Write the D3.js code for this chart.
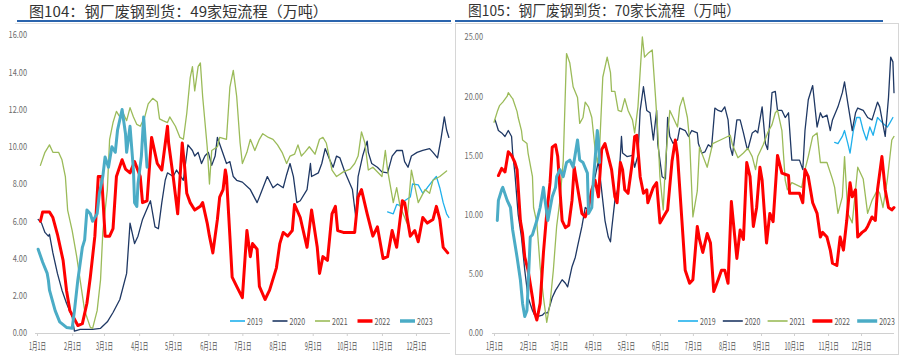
<!DOCTYPE html>
<html><head><meta charset="utf-8">
<script src="https://cdn.jsdelivr.net/npm/d3@7/dist/d3.min.js"></script>
<style>body{margin:0;background:#fff}svg{display:block}</style>
</head><body><svg id="c" width="900" height="356"></svg>
<script>
// ---------- data ----------
const years = ["2019","2020","2021","2022","2023"];
const monthLabels = ["1月1日","2月1日","3月1日","4月1日","5月1日","6月1日","7月1日","8月1日","9月1日","10月1日","11月1日","12月1日"];
const leftTitle = "图104：钢厂废钢到货：49家短流程（万吨）";
const rightTitle = "图105：钢厂废钢到货：70家长流程（万吨）";
const leftYTicks = [0,2,4,6,8,10,12,14,16];
const rightYTicks = [0,5,10,15,20,25];

// [day of year, value]  — 49 short-process mills
const short2019 = [[309,6.5],[314,6.4],[317,6.9],[322,6.8],[324,7.1],[329,7.3],[331,8.0],[336,7.95],[340,7.5],[344,7.8],[349,8.2],[352,8.4],[355,7.8],[358,7.0],[361,6.4],[363,6.2]];
const short2020 = [[1,6.1],[4,5.9],[7,5.4],[10,5.2],[11,5.3],[14,4.3],[18,3.2],[22,2.3],[26,1.6],[31,0.86],[33,0.1],[38,0.2],[44,0.2],[49,0.2],[56,0.25],[62,0.6],[67,1.1],[73,1.8],[79,3.2],[82,5.9],[86,4.8],[89,5.2],[93,6.1],[100,7.1],[104,5.7],[107,5.6],[110,7.0],[113,8.2],[115,8.6],[120,8.4],[123,8.75],[129,8.2],[133,10.1],[137,9.8],[139,9.5],[142,9.7],[145,9.1],[148,9.5],[151,9.7],[154,9.0],[157,9.5],[159,10.5],[163,9.8],[167,9.1],[170,9.2],[173,8.4],[176,8.2],[181,8.1],[188,7.7],[194,7.0],[196,7.3],[203,8.4],[208,7.8],[212,8.0],[217,7.8],[220,8.5],[223,9.1],[226,8.4],[229,7.0],[232,7.1],[238,7.7],[241,9.1],[242,8.4],[248,8.6],[251,9.1],[254,9.9],[258,9.3],[261,8.9],[264,9.5],[267,9.4],[271,8.7],[278,7.7],[281,6.2],[283,8.4],[287,9.5],[291,10.3],[292,9.7],[295,9.1],[300,8.9],[304,8.65],[309,8.6],[313,9.5],[317,9.8],[322,9.8],[324,9.2],[327,8.9],[330,9.5],[335,9.7],[340,9.8],[346,9.9],[349,9.7],[353,9.4],[356,10.4],[359,11.6],[361,10.9],[363,10.5]];
const short2021 = [[3,9.0],[7,9.7],[11,10.1],[14,9.7],[19,9.7],[22,9.3],[25,8.4],[27,6.6],[31,5.5],[35,4.1],[38,2.85],[42,1.2],[47,0.3],[49,0.25],[53,1.2],[56,2.85],[58,5.4],[62,7.7],[64,10.4],[67,11.3],[70,11.9],[73,11.6],[76,11.8],[79,11.4],[82,12.1],[85,11.6],[88,11.2],[91,11.1],[95,11.6],[98,12.3],[102,12.6],[106,12.4],[108,11.5],[111,11.4],[115,11.3],[117,11.6],[122,11.1],[126,10.5],[129,10.4],[132,11.8],[135,13.7],[137,14.3],[139,13.0],[142,14.3],[144,14.5],[146,12.7],[150,10.0],[152,8.0],[154,9.8],[159,10.0],[161,10.5],[167,10.4],[170,13.2],[173,14.1],[176,12.7],[179,10.2],[181,9.1],[185,9.7],[188,10.4],[192,9.8],[196,10.4],[199,10.7],[204,10.5],[208,10.4],[212,10.1],[216,9.7],[220,9.1],[223,9.5],[227,9.6],[230,10.1],[233,9.5],[236,9.7],[240,10.0],[245,9.6],[249,10.4],[252,10.5],[255,10.2],[260,8.75],[264,8.4],[270,8.65],[276,8.8],[280,9.1],[283,9.5],[286,10.8],[289,10.2],[292,8.75],[296,8.9],[304,8.4],[307,9.8],[309,8.75],[314,7.0],[317,7.8],[320,6.8],[326,5.9],[330,8.75],[336,7.0],[342,7.7],[346,7.5],[349,8.2],[355,8.4],[361,8.7]];
const short2022 = [[3,6.0],[5,6.5],[11,6.5],[14,6.2],[18,5.3],[23,3.9],[26,2.3],[29,1.2],[36,0.4],[40,0.5],[44,1.6],[47,3.0],[51,5.2],[54,8.4],[57,8.4],[60,5.2],[64,5.2],[67,5.6],[70,8.4],[75,9.3],[78,8.8],[82,8.6],[86,9.2],[91,8.4],[93,7.0],[97,7.1],[101,10.5],[106,9.1],[110,8.75],[115,11.1],[116,10.2],[120,8.4],[124,6.4],[128,10.2],[130,9.0],[132,7.5],[135,7.0],[139,6.6],[144,6.8],[146,7.0],[150,5.9],[152,5.2],[155,4.3],[159,6.1],[161,7.3],[164,7.7],[166,8.75],[167,8.4],[170,5.2],[172,3.0],[176,2.5],[181,1.9],[185,5.5],[188,4.1],[190,4.8],[194,4.5],[196,2.5],[201,1.8],[205,2.3],[211,3.5],[214,4.8],[217,5.4],[221,5.2],[225,5.5],[227,6.9],[232,6.2],[238,4.6],[242,6.6],[247,4.6],[249,3.2],[252,4.1],[256,3.9],[260,6.4],[263,6.8],[265,5.5],[270,5.4],[280,5.4],[283,7.3],[286,7.7],[291,6.4],[296,5.2],[300,5.7],[305,4.0],[309,4.1],[313,5.5],[317,4.6],[322,7.1],[324,7.0],[329,5.2],[333,5.5],[336,4.9],[340,6.2],[344,5.9],[349,6.1],[352,6.8],[355,6.1],[358,4.6],[362,4.3]];
const short2023 = [[1,4.5],[5,3.8],[9,3.2],[10,2.85],[11,2.3],[16,1.2],[20,0.6],[26,0.3],[31,0.25],[33,1.2],[36,2.85],[40,4.6],[42,5.0],[44,6.6],[47,6.4],[49,6.0],[53,6.4],[55,7.5],[58,8.4],[60,9.45],[63,8.9],[66,10.0],[69,9.7],[71,10.9],[75,12.0],[78,10.7],[79,9.7],[82,11.1],[85,8.75],[86,7.0],[88,6.8],[89,8.0],[92,9.5],[94,11.6],[97,8.9]];

// 70 long-process mills
const long2019 = [[310,16.1],[313,16.0],[317,16.6],[319,17.1],[322,16.0],[324,15.2],[327,17.1],[330,18.2],[333,18.2],[336,17.1],[339,16.3],[342,17.4],[345,16.7],[349,18.2],[351,18.0],[354,17.7],[358,17.4],[360,17.7],[363,18.2]];
const long2020 = [[1,18.0],[4,17.1],[7,16.9],[10,16.6],[13,17.1],[16,16.6],[17,15.2],[19,13.5],[22,10.0],[25,8.1],[28,5.3],[31,3.0],[35,1.9],[37,1.5],[40,1.4],[44,1.5],[46,1.7],[49,1.7],[53,3.0],[56,3.6],[58,3.9],[62,4.5],[65,4.2],[67,3.9],[71,5.6],[74,6.4],[76,7.3],[80,9.0],[83,10.6],[86,10.4],[89,12.1],[92,13.2],[95,14.5],[98,12.0],[101,9.5],[104,8.1],[106,7.7],[107,8.7],[110,11.2],[113,12.3],[115,15.0],[116,16.6],[117,15.2],[121,14.9],[126,15.0],[128,14.0],[131,15.0],[133,18.8],[136,20.8],[139,18.8],[142,18.6],[145,16.3],[148,18.8],[149,16.0],[153,13.2],[156,13.0],[158,18.2],[160,16.6],[163,16.0],[167,16.3],[169,17.3],[174,17.1],[177,16.6],[180,17.1],[185,16.9],[186,16.0],[189,15.2],[192,15.3],[195,15.9],[198,15.7],[201,19.0],[204,18.8],[207,18.7],[210,19.1],[213,18.0],[215,15.7],[217,15.0],[221,18.0],[224,18.0],[227,16.9],[230,15.7],[231,15.5],[235,16.9],[238,17.1],[240,16.9],[244,19.1],[247,16.0],[249,15.5],[253,20.3],[256,20.4],[258,18.8],[262,18.8],[265,18.2],[268,18.6],[271,14.6],[278,14.6],[281,13.8],[283,17.1],[286,19.7],[290,20.9],[294,17.4],[297,18.6],[299,18.2],[303,18.4],[306,17.1],[308,18.0],[313,19.1],[317,20.3],[319,21.2],[322,19.4],[326,17.1],[329,18.6],[331,19.0],[336,18.8],[340,18.2],[344,18.0],[349,19.5],[351,19.1],[356,16.6],[359,19.9],[361,23.3],[363,22.9],[364,20.3]];
const long2021 = [[0,17.8],[3,18.7],[5,19.2],[8,19.5],[12,20.0],[13,20.3],[16,19.9],[17,19.8],[21,18.7],[22,18.2],[25,17.1],[26,16.3],[30,16.0],[31,15.2],[35,13.2],[36,10.6],[39,9.3],[42,5.6],[45,3.0],[48,0.9],[51,2.5],[54,5.3],[57,9.0],[60,11.2],[63,14.5],[66,23.6],[69,22.8],[72,20.8],[76,19.9],[78,17.7],[81,18.2],[83,19.5],[86,19.1],[89,18.2],[92,15.5],[94,14.4],[96,15.5],[99,21.6],[103,23.3],[106,22.0],[107,20.4],[110,20.4],[113,18.8],[116,18.7],[119,19.8],[122,18.8],[126,18.0],[128,16.9],[131,19.1],[135,25.0],[137,23.3],[140,23.6],[144,23.9],[147,19.9],[149,17.1],[151,13.2],[154,10.4],[156,14.4],[160,18.8],[163,18.2],[167,17.4],[169,19.1],[172,19.9],[176,18.2],[178,16.3],[181,9.8],[185,12.0],[187,15.7],[194,14.0],[199,16.0],[206,16.3],[215,16.7],[217,15.9],[222,14.8],[227,15.2],[231,15.6],[235,14.9],[238,13.8],[240,14.9],[245,15.9],[249,16.9],[253,17.6],[256,18.6],[258,18.8],[262,17.1],[265,12.9],[267,12.1],[271,12.7],[280,12.3],[283,13.8],[286,14.9],[290,16.6],[294,16.9],[297,14.4],[303,14.4],[308,13.0],[310,12.3],[313,10.1],[317,11.5],[319,14.9],[322,10.1],[326,9.3],[329,12.1],[331,14.0],[336,13.0],[340,10.1],[344,11.2],[349,12.1],[351,11.8],[354,10.6],[358,13.0],[362,16.3],[364,16.6]];
const long2022 = [[4,13.3],[7,13.9],[10,13.6],[13,15.3],[16,15.0],[19,14.4],[21,13.8],[24,9.5],[26,8.4],[28,6.4],[31,5.3],[35,3.0],[37,1.7],[39,1.1],[42,2.5],[45,6.8],[48,10.1],[51,12.7],[53,15.7],[56,15.9],[58,14.9],[60,12.1],[62,9.5],[65,8.9],[68,9.1],[71,11.2],[73,14.0],[76,12.3],[80,10.1],[83,9.8],[86,10.6],[89,12.1],[92,12.9],[95,11.5],[98,15.5],[101,16.0],[104,14.9],[107,13.8],[110,11.5],[112,11.0],[115,14.4],[117,13.8],[119,12.1],[122,11.8],[126,14.5],[128,16.6],[130,16.7],[133,13.2],[136,11.8],[139,12.1],[140,11.0],[145,12.3],[148,12.7],[151,9.3],[156,10.1],[158,10.4],[162,14.5],[165,16.3],[167,15.0],[171,9.5],[174,5.3],[178,4.2],[181,4.5],[185,9.0],[187,7.9],[190,6.8],[194,8.4],[197,7.6],[200,3.5],[204,4.5],[207,5.3],[210,5.3],[213,4.2],[216,11.1],[221,6.3],[224,8.7],[227,7.9],[230,14.4],[233,13.2],[236,9.0],[239,10.6],[242,14.0],[244,12.9],[248,7.6],[251,10.1],[254,9.4],[258,15.0],[262,13.5],[268,13.3],[269,11.8],[278,11.8],[281,11.0],[283,13.8],[286,13.2],[290,11.0],[294,10.1],[297,8.1],[299,8.5],[303,8.1],[306,7.0],[308,5.9],[312,5.7],[315,8.1],[318,7.0],[321,9.5],[324,12.7],[326,11.5],[329,12.1],[331,8.1],[335,8.5],[338,8.7],[340,9.0],[344,9.8],[347,9.5],[349,12.1],[353,14.9],[356,12.1],[359,10.6],[362,10.4],[364,10.6]];
const long2023 = [[3,9.5],[4,11.2],[7,12.1],[8,12.3],[12,11.2],[15,10.6],[17,8.7],[21,6.4],[24,4.5],[26,2.5],[28,1.4],[30,1.9],[31,3.9],[33,8.1],[35,8.3],[39,9.5],[42,10.6],[45,12.3],[46,11.5],[49,9.5],[53,11.5],[56,12.3],[57,13.2],[60,13.8],[63,13.2],[66,14.4],[69,14.6],[72,14.0],[76,16.3],[78,14.6],[81,14.4],[85,13.5],[86,10.1],[89,10.6],[90,12.3],[94,17.1],[95,16.3],[96,14.4]];

const leftSeries = [short2019, short2020, short2021, short2022, short2023];
const rightSeries = [long2019, long2020, long2021, long2022, long2023];

// ---------- styles ----------
const colors = ["#1fb0ec","#1f3864","#9bbb59","#ff0000","#4bacc6"];
const widths = [1.3,1.3,1.3,3,3];
const FONT = "'Noto Sans CJK SC','Noto Sans',sans-serif";

const svg = d3.select("#c");
const base = new Date(2022,0,1);
const toDate = d => d3.timeDay.offset(base, d);
const months = d3.range(12).map(m => new Date(2022, m, 1));

function squish(sel, f){
  sel.each(function(){
    const w = this.getComputedTextLength();
    d3.select(this).attr("textLength", w*f).attr("lengthAdjust","spacingAndGlyphs");
  });
}

// frame
svg.append("rect").attr("x",455.5).attr("y",23.5).attr("width",443).attr("height",331)
  .attr("fill","none").attr("stroke","#d6d6d6");
svg.append("line").attr("x1",15).attr("x2",452).attr("y1",23.5).attr("y2",23.5).attr("stroke","#e4e4e4");

function panel(cfg){
  const x = d3.scaleTime().domain([base, new Date(2022,11,31)]).range(cfg.xr);
  const y = d3.scaleLinear().domain([0, cfg.ymax]).range([333, cfg.ytop]);
  const g = svg.append("g");

  // title
  g.append("text").attr("x",cfg.tx).attr("y",cfg.ty).text(cfg.title)
    .attr("font-family",FONT).attr("font-size",14.5).attr("fill","#333")
    .attr("textLength",cfg.tw).attr("lengthAdjust","spacingAndGlyphs");
  g.append("line").attr("x1",cfg.ux[0]).attr("x2",cfg.ux[1]).attr("y1",21).attr("y2",21)
    .attr("stroke","#2a64ad").attr("stroke-width",2.2);

  // y axis
  const ya = g.append("g").attr("transform",`translate(${cfg.yax},0)`)
    .call(d3.axisLeft(y).tickValues(cfg.yticks).tickFormat(d3.format(".2f")).tickSize(0).tickPadding(3));
  ya.select(".domain").remove();
  ya.selectAll("text").attr("font-family",FONT).attr("font-size",9).attr("fill","#6b6b6b").call(squish,0.82);

  // x axis
  const xa = g.append("g").attr("transform","translate(0,333)")
    .call(d3.axisBottom(x).tickValues(months).tickFormat((d,i)=>monthLabels[i]).tickSize(3).tickPadding(7));
  xa.select(".domain").attr("stroke","#d0d0d0").attr("d",`M${cfg.xr[0]-2},0.5H${cfg.xr[1]}`);
  xa.selectAll(".tick line").attr("stroke","#d0d0d0");
  xa.selectAll("text").attr("font-family",FONT).attr("font-size",10).attr("fill","#555").call(squish,0.55);

  // lines
  const line = d3.line().x(d => x(toDate(d[0]))).y(d => y(d[1]));
  cfg.series.forEach((s,i) => {
    g.append("path").datum(s).attr("d",line).attr("fill","none")
      .attr("stroke",colors[i]).attr("stroke-width",widths[i])
      .attr("stroke-linejoin","round").attr("stroke-linecap","round");
  });

  // legend
  years.forEach((yr,i) => {
    const lx = cfg.lx + i*cfg.lstep;
    g.append("line").attr("x1",lx).attr("x2",lx+cfg.lw).attr("y1",321).attr("y2",321)
      .attr("stroke",colors[i]).attr("stroke-width",i>=3?3.5:1.6);
    g.append("text").attr("x",lx+cfg.lw+2).attr("y",324.5).text(yr)
      .attr("font-family",FONT).attr("font-size",9).attr("fill","#595959").call(squish,0.78);
  });
}

panel({xr:[37,450], ymax:16, ytop:35, yticks:leftYTicks, yax:30, series:leftSeries,
  title:leftTitle, tx:29, ty:16.5, tw:299, ux:[17,451], lx:230, lstep:42.5, lw:15});
panel({xr:[494,894], ymax:25, ytop:37, yticks:rightYTicks, yax:486, series:rightSeries,
  title:rightTitle, tx:468, ty:16, tw:272, ux:[455,883], lx:678, lstep:44.8, lw:20});
</script></body></html>
